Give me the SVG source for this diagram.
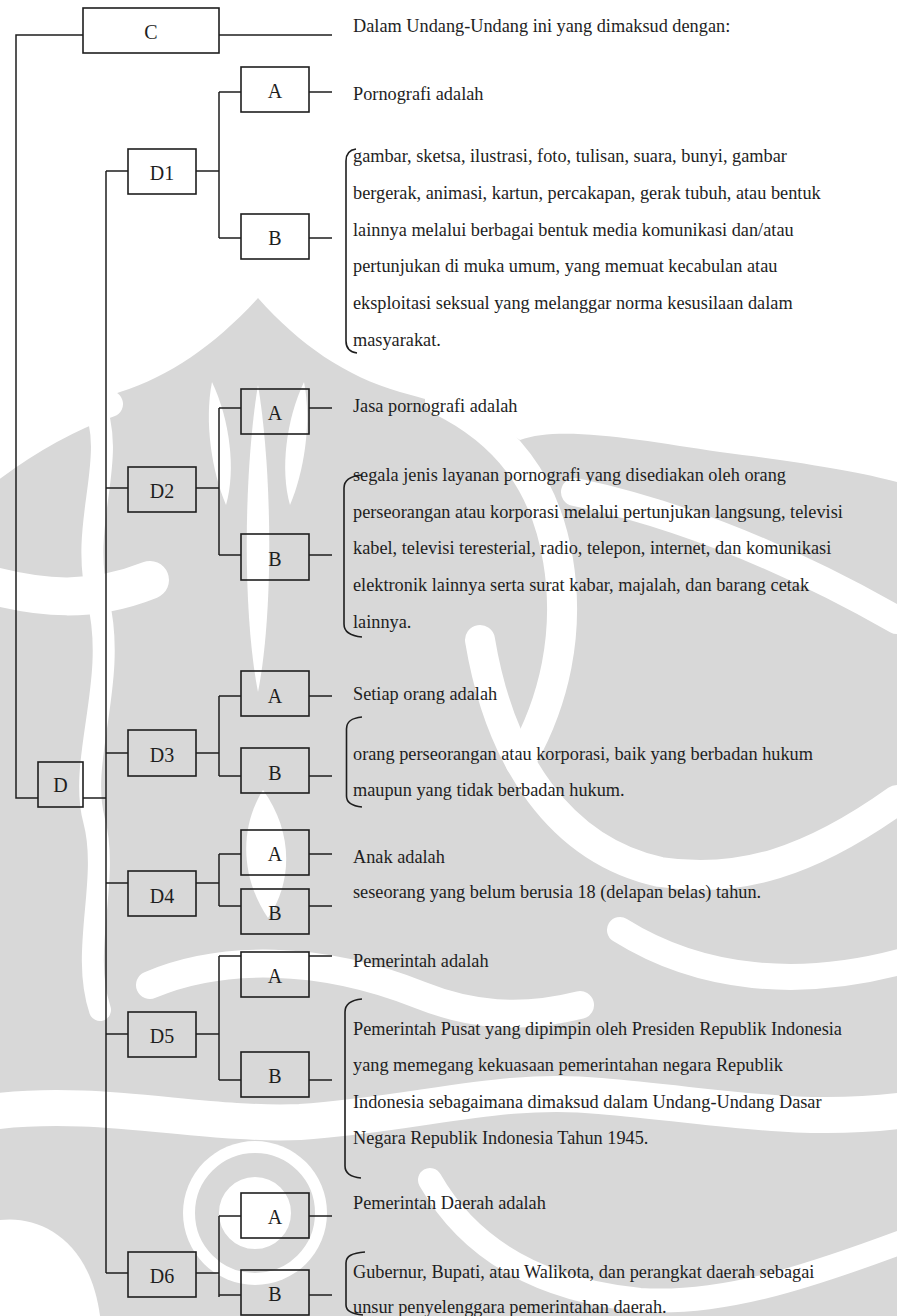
<svg xmlns="http://www.w3.org/2000/svg" width="897" height="1316" viewBox="0 0 897 1316">
  <style>
    .box { fill: none; stroke: #1e1e1e; stroke-width: 1.6; }
    .wire { fill: none; stroke: #1e1e1e; stroke-width: 1.5; }
    .brace { fill: none; stroke: #1e1e1e; stroke-width: 1.6; }
    .lbl { font-family: "Liberation Serif", "Times New Roman", serif; font-size: 20px; fill: #1e1e1e; text-anchor: middle; }
    .txt { font-family: "Liberation Serif", "Times New Roman", serif; font-size: 18.3px; fill: #1e1e1e; }
    .wm { fill: #d8d8d8; stroke: none; }
    .cut { fill: none; stroke: #ffffff; stroke-linecap: round; }
    .hole { fill: #ffffff; stroke: none; }
  </style>

  <rect width="897" height="1316" fill="#ffffff"/>

  <!-- faint ornamental emblem behind the chart -->
  <g id="watermark">
    <path class="wm" d="M0,455 C40,430 80,405 120,392 C170,376 215,345 258,298 C300,345 345,376 400,392 C450,405 490,420 520,440 C560,425 640,440 720,452 C800,462 860,472 897,482 L897,1316 L0,1316 Z"/>
    <!-- swirling bands -->
    <path class="cut" stroke-width="30" d="M440,400 C505,432 545,482 558,560 C570,632 555,702 520,762"/>
    <path class="cut" stroke-width="28" d="M575,492 C660,510 770,548 897,620"/>
    <path class="cut" stroke-width="30" d="M480,640 C500,760 560,850 660,872 C740,884 810,862 897,800"/>
    <path class="cut" stroke-width="38" d="M-10,585 C40,598 90,604 150,580"/>
    <path class="cut" stroke-width="22" d="M92,398 C120,460 78,520 98,600 C118,680 78,760 94,820 C110,880 80,950 100,1010"/>
    <path class="cut" stroke-width="26" d="M-10,470 C30,440 70,418 110,404"/>
    <path class="cut" stroke-width="36" d="M-10,1112 C100,1098 200,1126 300,1122 C420,1114 500,1086 600,1096 C720,1106 800,1124 907,1110"/>
    <path class="cut" stroke-width="28" d="M150,985 C220,955 320,955 420,995 C470,1015 520,1020 580,1005"/>
    <path class="cut" stroke-width="26" d="M620,930 C700,980 800,990 907,960"/>
    <path class="cut" stroke-width="24" d="M430,1180 C470,1250 540,1290 640,1300 C720,1305 800,1280 907,1240"/>
    <!-- central petals -->
    <path class="hole" d="M258,385 C272,470 274,610 258,692 C242,610 244,470 258,385 Z"/>
    <path class="hole" d="M212,382 C230,420 236,470 226,505 C212,472 204,422 212,382 Z"/>
    <path class="hole" d="M304,382 C286,420 280,470 290,505 C304,472 312,422 304,382 Z"/>
    <path class="hole" d="M263,790 C292,830 294,880 268,918 C242,880 238,830 263,790 Z"/>
    <path class="hole" d="M0,1220 C40,1215 90,1240 100,1316 L0,1316 Z"/>
    <!-- lower spiral -->
    <circle class="hole" cx="255" cy="1213" r="72"/>
    <circle cx="255" cy="1213" r="48" fill="none" stroke="#d8d8d8" stroke-width="24"/>
  </g>

  <!-- connectors -->
  <g id="connectors" class="wire">
    <!-- root spine: C to D -->
    <path d="M83,35 H16 V798 H38"/>
    <path d="M219,35 H332"/>
    <!-- D spine -->
    <path d="M83,798 H106"/>
    <path d="M106,171 V1273"/>
    <path d="M106,171 H128 M106,488 H128 M106,753 H128 M106,883 H128 M106,1034 H128 M106,1273 H128"/>
    <!-- D1 -->
    <path d="M196,171 H219 M219,92 V238 M219,92 H241 M219,238 H241 M309,92 H332 M309,238 H332"/>
    <!-- D2 -->
    <path d="M196,488 H219 M219,408 V555 M219,408 H241 M219,555 H241 M309,408 H332 M309,555 H332"/>
    <!-- D3 -->
    <path d="M196,753 H219 M219,696 V776 M219,696 H241 M219,776 H241 M309,696 H332 M309,776 H332"/>
    <!-- D4 -->
    <path d="M196,883 H219 M219,854 V906 M219,854 H241 M219,906 H241 M309,854 H332 M309,906 H332"/>
    <!-- D5 -->
    <path d="M196,1034 H219 M219,956 V1080 M219,956 H241 M219,1080 H241 M309,956 H332 M309,1080 H332"/>
    <!-- D6 -->
    <path d="M196,1273 H219 M219,1216 V1297 M219,1216 H241 M219,1295 H241 M309,1216 H332 M309,1295 H332"/>
  </g>

  <!-- nodes -->
  <g id="node-C"><rect class="box" x="83" y="8" width="136" height="45"/><text class="lbl" x="151" y="39">C</text></g>
  <g id="node-D"><rect class="box" x="38" y="762" width="45" height="45"/><text class="lbl" x="60.5" y="792">D</text></g>

  <g id="node-D1"><rect class="box" x="128" y="149" width="68" height="45"/><text class="lbl" x="162" y="180">D1</text></g>
  <g id="node-D1-A"><rect class="box" x="241" y="67" width="68" height="45"/><text class="lbl" x="275" y="98">A</text></g>
  <g id="node-D1-B"><rect class="box" x="241" y="214" width="68" height="45"/><text class="lbl" x="275" y="245">B</text></g>

  <g id="node-D2"><rect class="box" x="128" y="467" width="68" height="45"/><text class="lbl" x="162" y="498">D2</text></g>
  <g id="node-D2-A"><rect class="box" x="241" y="389" width="68" height="45"/><text class="lbl" x="275" y="420">A</text></g>
  <g id="node-D2-B"><rect class="box" x="241" y="534" width="68" height="46"/><text class="lbl" x="275" y="566">B</text></g>

  <g id="node-D3"><rect class="box" x="128" y="730" width="68" height="46"/><text class="lbl" x="162" y="762">D3</text></g>
  <g id="node-D3-A"><rect class="box" x="241" y="671" width="68" height="45"/><text class="lbl" x="275" y="703">A</text></g>
  <g id="node-D3-B"><rect class="box" x="241" y="748" width="68" height="45"/><text class="lbl" x="275" y="780">B</text></g>

  <g id="node-D4"><rect class="box" x="128" y="871" width="68" height="45"/><text class="lbl" x="162" y="903">D4</text></g>
  <g id="node-D4-A"><rect class="box" x="241" y="830" width="68" height="45"/><text class="lbl" x="275" y="861">A</text></g>
  <g id="node-D4-B"><rect class="box" x="241" y="889" width="68" height="45"/><text class="lbl" x="275" y="920">B</text></g>

  <g id="node-D5"><rect class="box" x="128" y="1012" width="68" height="45"/><text class="lbl" x="162" y="1043">D5</text></g>
  <g id="node-D5-A"><rect class="box" x="241" y="952" width="68" height="45"/><text class="lbl" x="275" y="983">A</text></g>
  <g id="node-D5-B"><rect class="box" x="241" y="1052" width="68" height="45"/><text class="lbl" x="275" y="1083">B</text></g>

  <g id="node-D6"><rect class="box" x="128" y="1252" width="68" height="45"/><text class="lbl" x="162" y="1283">D6</text></g>
  <g id="node-D6-A"><rect class="box" x="241" y="1193" width="68" height="45"/><text class="lbl" x="275" y="1224">A</text></g>
  <g id="node-D6-B"><rect class="box" x="241" y="1270" width="68" height="45"/><text class="lbl" x="275" y="1301">B</text></g>

  <!-- definitions text -->
  <g id="text-C"><text class="txt" x="353" y="32">Dalam Undang-Undang ini yang dimaksud dengan:</text></g>

  <g id="text-D1-A"><text class="txt" x="353" y="100">Pornografi adalah</text></g>
  <g id="text-D1-B">
    <path class="brace" d="M356,149 C349,150 346,154 346,161 V341 C346,348 349,352 357,353"/>
    <text class="txt">
      <tspan x="353" y="162">gambar, sketsa, ilustrasi, foto, tulisan, suara, bunyi, gambar</tspan>
      <tspan x="353" y="198.8">bergerak, animasi, kartun, percakapan, gerak tubuh, atau bentuk</tspan>
      <tspan x="353" y="235.6">lainnya melalui berbagai bentuk media komunikasi dan/atau</tspan>
      <tspan x="353" y="272.4">pertunjukan di muka umum, yang memuat kecabulan atau</tspan>
      <tspan x="353" y="309.2">eksploitasi seksual yang melanggar norma kesusilaan dalam</tspan>
      <tspan x="353" y="346">masyarakat.</tspan>
    </text>
  </g>

  <g id="text-D2-A"><text class="txt" x="353" y="411.5">Jasa pornografi adalah</text></g>
  <g id="text-D2-B">
    <path class="brace" d="M362,475 C351,476 344,480 344,488 V624 C344,632 351,636 362,637"/>
    <text class="txt">
      <tspan x="353" y="481">segala jenis layanan pornografi yang disediakan oleh orang</tspan>
      <tspan x="353" y="517.7">perseorangan atau korporasi melalui pertunjukan langsung, televisi</tspan>
      <tspan x="353" y="554.4">kabel, televisi teresterial, radio, telepon, internet, dan komunikasi</tspan>
      <tspan x="353" y="591.1">elektronik lainnya serta surat kabar, majalah, dan barang cetak</tspan>
      <tspan x="353" y="627.8">lainnya.</tspan>
    </text>
  </g>

  <g id="text-D3-A"><text class="txt" x="353" y="700">Setiap orang adalah</text></g>
  <g id="text-D3-B">
    <path class="brace" d="M362,717 C352,718 346.5,721 346.5,729 V796 C346.5,803 352,806 362,807"/>
    <text class="txt">
      <tspan x="353" y="760">orang perseorangan atau korporasi, baik yang berbadan hukum</tspan>
      <tspan x="353" y="796">maupun yang tidak berbadan hukum.</tspan>
    </text>
  </g>

  <g id="text-D4-A"><text class="txt" x="353" y="862.5">Anak adalah</text></g>
  <g id="text-D4-B"><text class="txt" x="353" y="898">seseorang yang belum berusia 18 (delapan belas) tahun.</text></g>

  <g id="text-D5-A"><text class="txt" x="353" y="966.5">Pemerintah adalah</text></g>
  <g id="text-D5-B">
    <path class="brace" d="M362,999 C351,1000 345,1004 345,1012 V1166 C345,1174 351,1177 361,1178"/>
    <text class="txt">
      <tspan x="353" y="1035">Pemerintah Pusat yang dipimpin oleh Presiden Republik Indonesia</tspan>
      <tspan x="353" y="1071.3">yang memegang kekuasaan pemerintahan negara Republik</tspan>
      <tspan x="353" y="1107.6">Indonesia sebagaimana dimaksud dalam Undang-Undang Dasar</tspan>
      <tspan x="353" y="1143.9">Negara Republik Indonesia Tahun 1945.</tspan>
    </text>
  </g>

  <g id="text-D6-A"><text class="txt" x="353" y="1208.5">Pemerintah Daerah adalah</text></g>
  <g id="text-D6-B">
    <path class="brace" d="M365,1252 C352,1253 346,1256 346,1263 V1305 C346,1311 351,1314 363,1315"/>
    <text class="txt">
      <tspan x="353" y="1278">Gubernur, Bupati, atau Walikota, dan perangkat daerah sebagai</tspan>
      <tspan x="353" y="1313">unsur penyelenggara pemerintahan daerah.</tspan>
    </text>
  </g>
</svg>
